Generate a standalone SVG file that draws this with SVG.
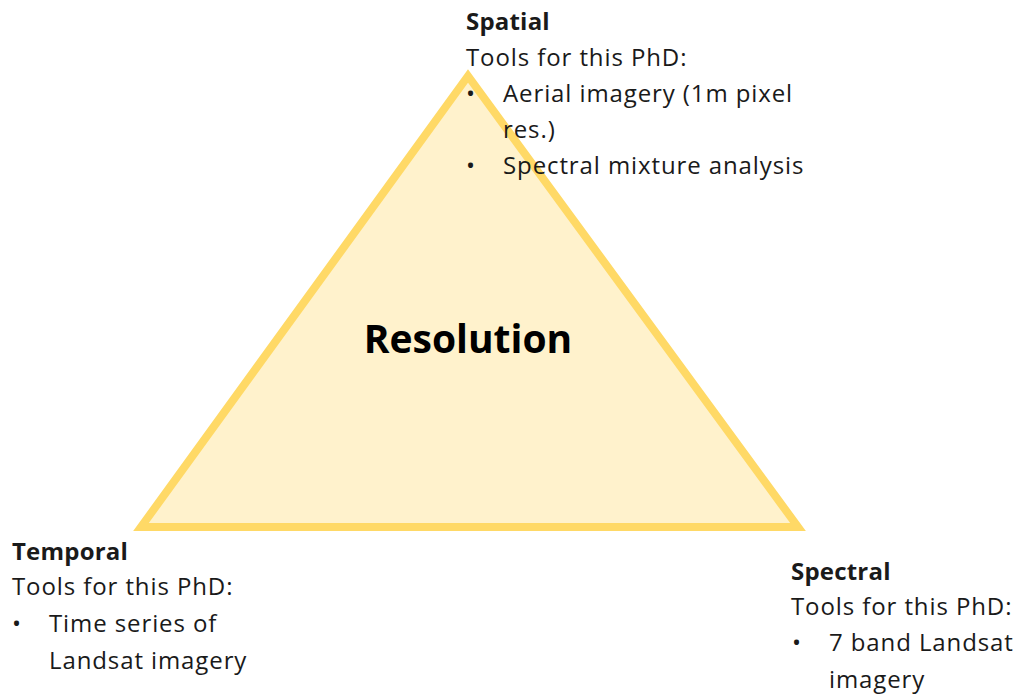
<svg xmlns="http://www.w3.org/2000/svg" width="1018" height="694" viewBox="0 0 1018 694">
<style>
text{font-family:"Open Sans","Noto Sans","Liberation Sans",sans-serif;fill:#1a1a1a;font-size:24px;letter-spacing:0.9px}
.h{font-weight:bold;letter-spacing:0.2px}
.big{font-weight:bold;font-size:39px;text-anchor:middle;fill:#000;letter-spacing:0}
</style>
<rect width="1018" height="694" fill="#fff"/>
<g id="triangle">
<polygon points="468,76 141,527 798,527" fill="#FFF2CC" stroke="#FFD966" stroke-width="8" stroke-linejoin="miter"/>
<text class="big" x="468" y="353">Resolution</text>
</g>
<g id="spatial">
<text class="h" x="466" y="30">Spatial</text>
<text x="466" y="66">Tools for this PhD:</text>
<text x="466" y="102">•</text><text x="503" y="102">Aerial imagery (1m pixel</text>
<text x="503" y="138">res.)</text>
<text x="466" y="174">•</text><text x="503" y="174">Spectral mixture analysis</text>
</g>
<g id="temporal">
<text class="h" x="12" y="560">Temporal</text>
<text x="12" y="595">Tools for this PhD:</text>
<text x="12" y="632">•</text><text x="49" y="632">Time series of</text>
<text x="49" y="669">Landsat imagery</text>
</g>
<g id="spectral">
<text class="h" x="791" y="580">Spectral</text>
<text x="791" y="615">Tools for this PhD:</text>
<text x="792" y="651">•</text><text x="829" y="651">7 band Landsat</text>
<text x="829" y="688">imagery</text>
</g>
<g id="connectors"/>
</svg>
